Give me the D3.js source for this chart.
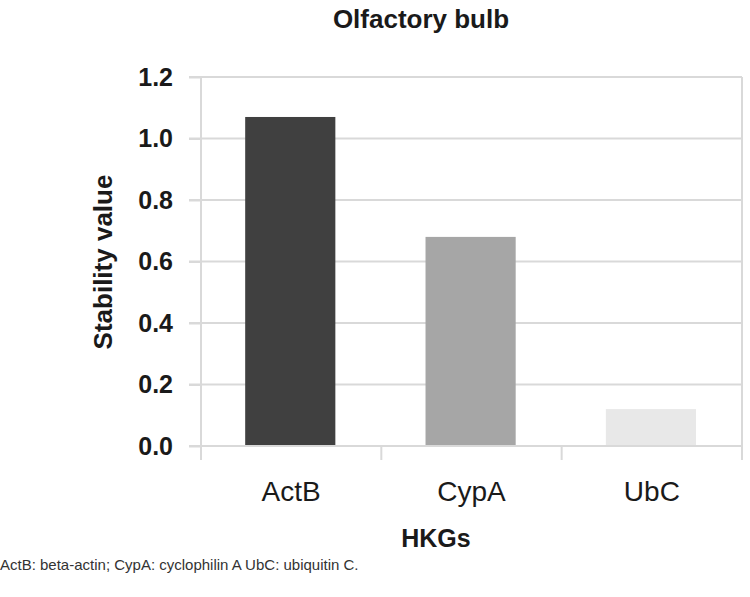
<!DOCTYPE html>
<html>
<head>
<meta charset="utf-8">
<script src="https://cdn.jsdelivr.net/npm/d3@7"></script>
<style>
  body { margin: 0; background: #fff; }
  svg { display: block; font-family: "Liberation Sans", Arial, sans-serif; }
</style>
</head>
<body>
<div id="chart"></div>
<script>
// data
const genes = ["ActB", "CypA", "UbC"];
const stability = [1.07, 0.68, 0.12];
const barColors = ["#404040", "#a6a6a6", "#e8e8e8"];
const yTicks = [0, 0.2, 0.4, 0.6, 0.8, 1.0, 1.2];

const margin = { top: 77, right: 8, bottom: 151, left: 201 },
  width = 750 - margin.left - margin.right,
  height = 597 - margin.top - margin.bottom;

const root = d3.select("#chart")
  .append("svg")
  .attr("width", 750)
  .attr("height", 597);

const svg = root.append("g")
  .attr("transform", `translate(${margin.left},${margin.top})`);

const x = d3.scaleBand().domain(genes).range([0, width]).paddingInner(0).paddingOuter(0);
const y = d3.scaleLinear().domain([0, 1.2]).range([height, 0]);

// gridlines (extend a bit left of the axis like tick marks)
svg.append("g")
  .selectAll("line")
  .data(yTicks)
  .join("line")
  .attr("x1", -12)
  .attr("x2", width)
  .attr("y1", d => y(d))
  .attr("y2", d => y(d))
  .attr("stroke", "#d9d9d9")
  .attr("stroke-width", 2);

// right border
svg.append("line")
  .attr("x1", width).attr("x2", width)
  .attr("y1", 0).attr("y2", height + 14)
  .attr("stroke", "#d9d9d9")
  .attr("stroke-width", 2);

// y axis
const yAxis = svg.append("g")
  .call(d3.axisLeft(y).tickValues(yTicks).tickFormat(d3.format(".1f")).tickSize(12).tickPadding(16));
yAxis.select(".domain").attr("stroke", "#d9d9d9").attr("stroke-width", 2)
  .attr("d", `M0,0V${height + 14}`);
yAxis.selectAll(".tick line").attr("stroke", "#d9d9d9").attr("stroke-width", 2);
yAxis.selectAll("text")
  .style("font-size", "25px")
  .style("font-weight", "bold")
  .attr("fill", "#1a1a1a");

// bars
svg.selectAll("rect.bar")
  .data(genes)
  .join("rect")
  .attr("class", "bar")
  .attr("x", d => x(d) + x.bandwidth() * 0.245)
  .attr("width", x.bandwidth() * 0.5)
  .attr("y", (d, i) => y(stability[i]))
  .attr("height", (d, i) => height - y(stability[i]))
  .attr("fill", (d, i) => barColors[i]);

// x axis line + boundary ticks
svg.append("line")
  .attr("x1", -12).attr("x2", width)
  .attr("y1", height).attr("y2", height)
  .attr("stroke", "#d9d9d9").attr("stroke-width", 2);

const bounds = genes.map(d => x(d)).concat([width]);
svg.append("g")
  .selectAll("line")
  .data(bounds)
  .join("line")
  .attr("x1", d => d).attr("x2", d => d)
  .attr("y1", height).attr("y2", height + 14)
  .attr("stroke", "#d9d9d9").attr("stroke-width", 2);

// category labels
const xAxis = svg.append("g")
  .attr("transform", `translate(0,${height})`)
  .call(d3.axisBottom(x).tickSize(0).tickPadding(35));
xAxis.select(".domain").remove();
xAxis.selectAll("text")
  .style("font-size", "28px")
  .attr("fill", "#1a1a1a");

// title
root.append("text")
  .attr("x", 421).attr("y", 28)
  .attr("text-anchor", "middle")
  .style("font-size", "26px")
  .style("font-weight", "bold")
  .attr("fill", "#1a1a1a")
  .text("Olfactory bulb");

// y label
root.append("text")
  .attr("transform", "translate(112,262) rotate(-90)")
  .attr("text-anchor", "middle")
  .style("font-size", "26px")
  .style("font-weight", "bold")
  .attr("fill", "#1a1a1a")
  .text("Stability value");

// x label
root.append("text")
  .attr("x", 436).attr("y", 547)
  .attr("text-anchor", "middle")
  .style("font-size", "25px")
  .style("font-weight", "bold")
  .attr("fill", "#1a1a1a")
  .text("HKGs");

// footnote
root.append("text")
  .attr("x", 0).attr("y", 570)
  .style("font-size", "15px")
  .attr("fill", "#333")
  .text("ActB: beta-actin; CypA: cyclophilin A UbC: ubiquitin C.");
</script>
</body>
</html>
